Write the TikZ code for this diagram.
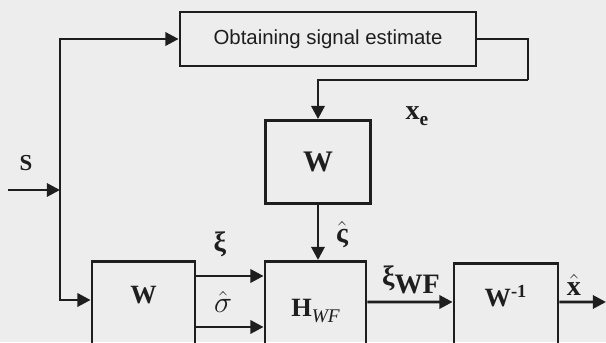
\documentclass[tikz,border=0pt]{standalone}
\usepackage{amsmath}
\usepackage{fontspec}
\setmainfont{Liberation Serif}
\newfontfamily\arialfont{Liberation Sans}
\usepackage{tikz}
\usetikzlibrary{arrows.meta}
\definecolor{BDInk}{HTML}{1E1E1E}
\definecolor{BDPaper}{HTML}{EDEDED}

\begin{document}
\begin{tikzpicture}[x=0.02cm,y=0.02cm,line width=1.6pt,color=BDInk,
  blk/.style={draw,inner sep=0pt,align=center},
  lowblk/.style={blk,anchor=north},
  arr/.style={-{Triangle[length=7.5pt,width=7.5pt]}},
  lbl/.style={inner sep=0pt,font=\bfseries\fontsize{13}{15}\selectfont}]
\useasboundingbox (0,0) rectangle (606,342);
\fill[BDPaper] (0,0) rectangle (606,342);
\clip (0,0) rectangle (606,342);
% blocks
\node[blk,minimum width=5.92cm,minimum height=1.08cm] (est) at (328,303) {\arialfont\fontsize{11.6}{13}\selectfont Obtaining signal estimate};
\node[blk,minimum width=2.1cm,minimum height=1.66cm,font=\bfseries\fontsize{17}{20}\selectfont] (wm) at (318,180) {W};
\node[lowblk,minimum width=2.06cm,text height=0.84cm,text depth=1.16cm,font=\bfseries\fontsize{15}{18}\selectfont] (wl) at (143.5,82) {W};
\node[lowblk,minimum width=2.02cm,text height=1.1cm,text depth=0.9cm,font=\bfseries\fontsize{15}{18}\selectfont] (hwf) at (315.5,82) {H\raisebox{-0.5ex}{\fontsize{11}{12}\selectfont\itshape\mdseries WF}};
\node[lowblk,minimum width=2.08cm,text height=0.86cm,text depth=1.1cm,font=\bfseries\fontsize{15}{18}\selectfont] (winv) at (506,80) {W\textsuperscript{-1}};
% free ends
\coordinate (in) at (8,152);
\coordinate (jn) at (60,152);
\coordinate (bend) at (528,262);
\coordinate (out) at (606,40);
% connectors
\draw[arr] (in) -- (jn);
\draw[arr] (jn) |- (est.west);
\draw[arr] (jn) |- ([yshift=-0.8cm]wl.north west);
\draw (est.east) -| (bend);
\draw[arr] (bend) -| (wm.north);
\draw[arr] (wm.south) -- (wm.south |- hwf.north);
\draw[arr] ([yshift=-0.32cm]wl.north east) -- ([yshift=-0.32cm]hwf.north west);
\draw[arr] ([yshift=-1.34cm]wl.north east) -- ([yshift=-1.34cm]hwf.north west);
\draw[arr] ([yshift=-0.84cm]hwf.north east) -- ([yshift=-0.8cm]winv.north west);
\draw[arr] ([yshift=-0.8cm]winv.north east) -- (out);
% labels
\node[lbl] (lblS) at (26,179) {S};
\node[lbl,font=\bfseries\fontsize{16}{18}\selectfont] (lblxe) at (417,226) {x\raisebox{-0.45ex}{\fontsize{11}{12}\selectfont e}};
\node[lbl,font=\bfseries\fontsize{16}{18}\selectfont] (lblxi) at (220,98) {ξ};
\node[lbl,font=\fontsize{17}{19}\selectfont] (lblsig) at (223,40) {$\hat{\sigma}$};
\node[lbl,font=\bfseries\fontsize{16}{18}\selectfont] (lblvs) at (342,107) {$\hat{\textbf{ς}}$};
\node[lbl,font=\bfseries\fontsize{16}{18}\selectfont] (lblxiwf) at (411,62) {ξ\raisebox{-0.6ex}{WF}};
\node[lbl,font=\bfseries\fontsize{16}{18}\selectfont] (lblxhat) at (574,57) {$\hat{\textbf{x}}$};
\end{tikzpicture}
\end{document}
